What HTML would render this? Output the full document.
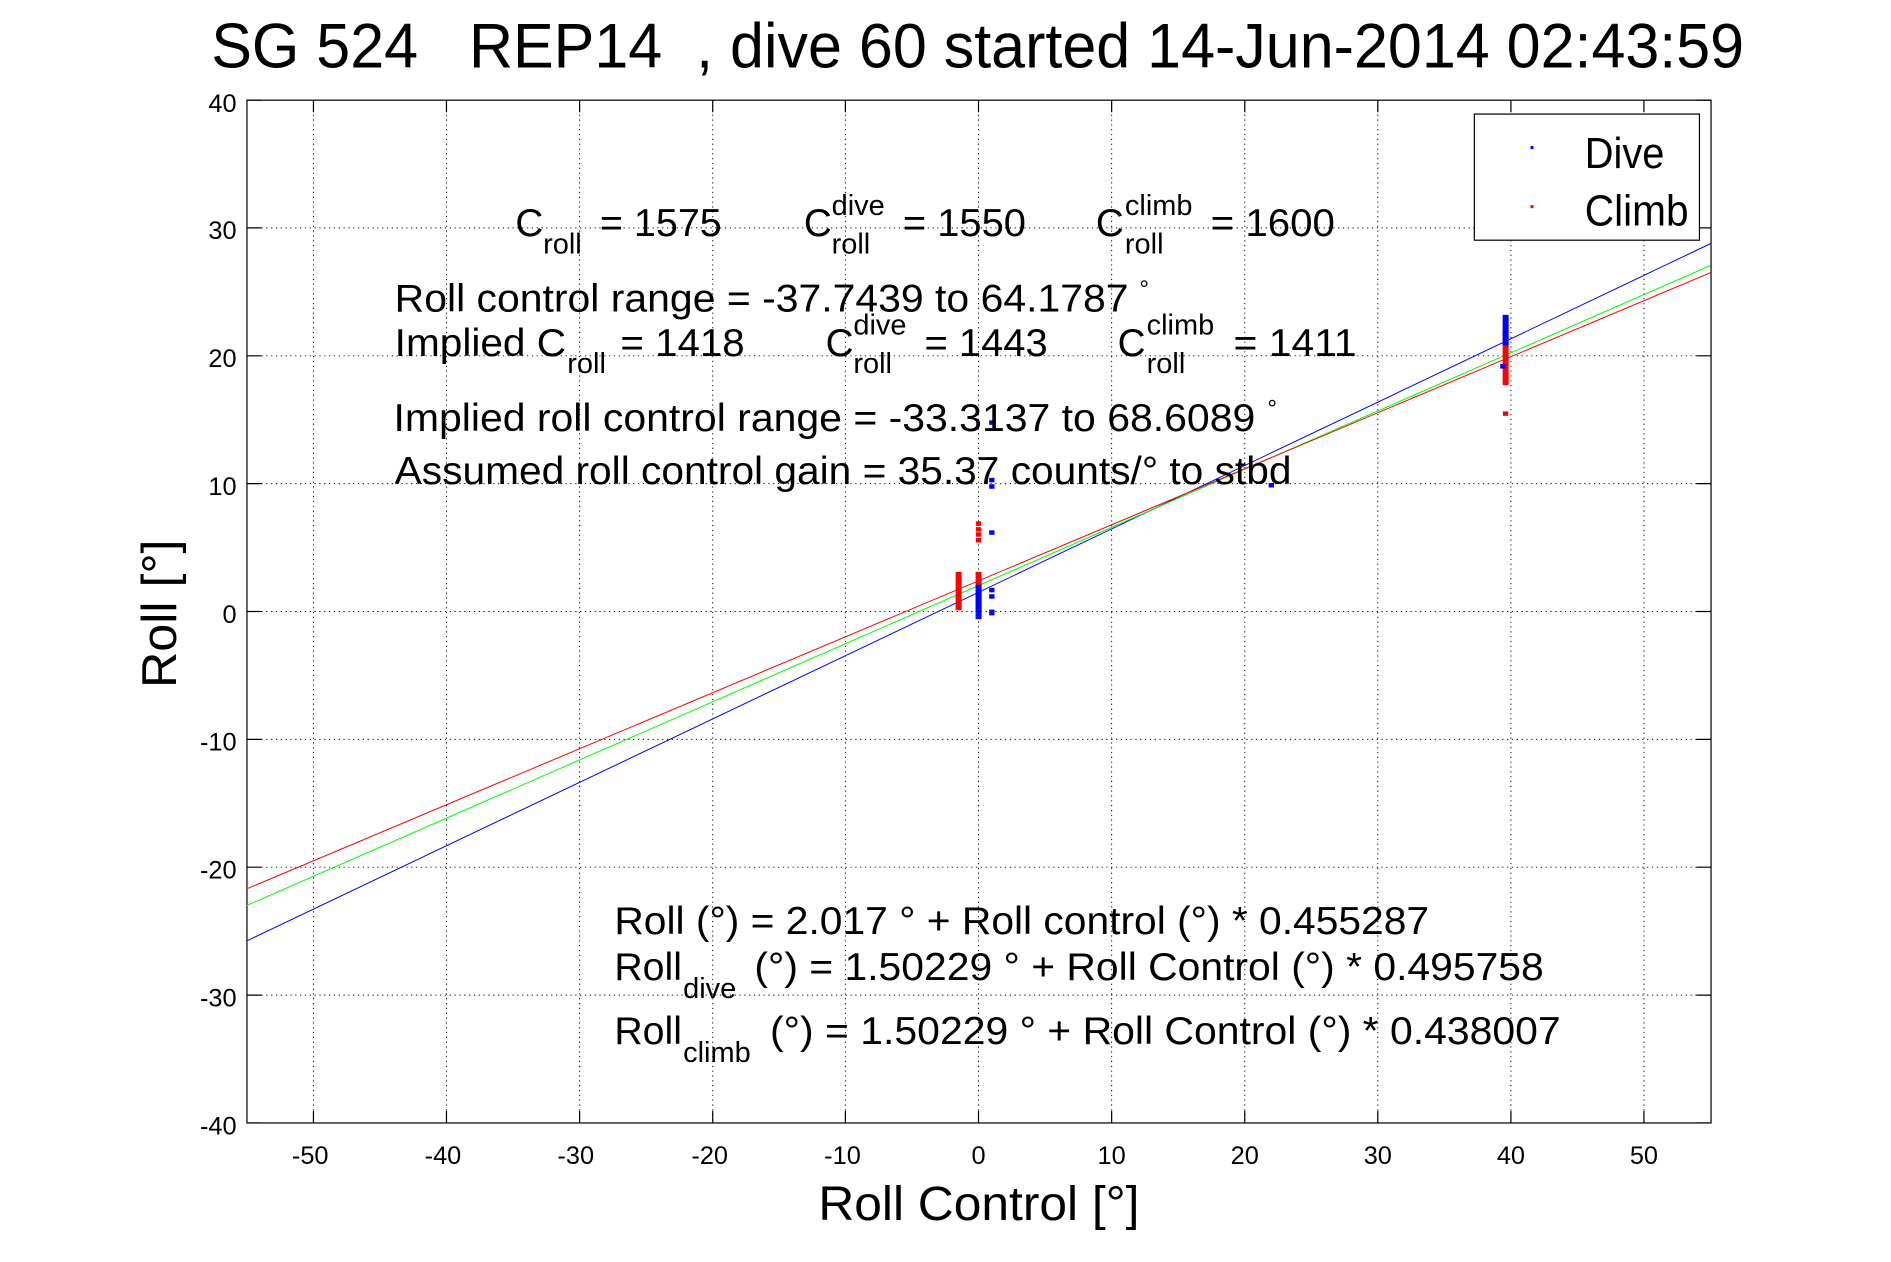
<!DOCTYPE html>
<html><head><meta charset="utf-8"><style>
html,body{margin:0;padding:0;background:#fff;}
svg{display:block;}
text{font-family:"Liberation Sans",Arial,sans-serif;fill:#000;white-space:pre;}
</style></head><body>
<svg width="1891" height="1262" viewBox="0 0 1566.7 1045.6" preserveAspectRatio="none" xmlns="http://www.w3.org/2000/svg" xml:space="preserve">
<rect x="0" y="0" width="1566.7" height="1045.6" fill="#fff"/>
<text x="175" y="56" font-size="52" textLength="1270" lengthAdjust="spacingAndGlyphs">SG 524   REP14  , dive 60 started 14-Jun-2014 02:43:59</text>
<g stroke="#000" stroke-width="0.8" stroke-dasharray="1,3" fill="none">
<path d="M259.7 83V930.4M369.9 83V930.4M480.2 83V930.4M590.5 83V930.4M700.4 83V930.4M810.7 83V930.4M921 83V930.4M1031.3 83V930.4M1141.5 83V930.4M1251.8 83V930.4M1362 83V930.4"/>
<path d="M204.6 188.8H1417.6M204.6 294.8H1417.6M204.6 400.7H1417.6M204.6 506.65H1417.6M204.6 612.6H1417.6M204.6 718.5H1417.6M204.6 824.5H1417.6"/>
</g>
<g stroke="#000" stroke-width="1" fill="none">
<path d="M259.7 930.4v-10M369.9 930.4v-10M480.2 930.4v-10M590.5 930.4v-10M700.4 930.4v-10M810.7 930.4v-10M921 930.4v-10M1031.3 930.4v-10M1141.5 930.4v-10M1251.8 930.4v-10M1362 930.4v-10"/>
<path d="M259.7 83v10M369.9 83v10M480.2 83v10M590.5 83v10M700.4 83v10M810.7 83v10M921 83v10M1031.3 83v10M1141.5 83v10M1251.8 83v10M1362 83v10"/>
<path d="M204.6 83h12M204.6 188.8h12M204.6 294.8h12M204.6 400.7h12M204.6 506.65h12M204.6 612.6h12M204.6 718.5h12M204.6 824.5h12M204.6 930.4h12"/>
<path d="M1417.6 83h-12M1417.6 188.8h-12M1417.6 294.8h-12M1417.6 400.7h-12M1417.6 506.65h-12M1417.6 612.6h-12M1417.6 718.5h-12M1417.6 824.5h-12M1417.6 930.4h-12"/>
<rect x="204.6" y="83" width="1213" height="847.4"/>
</g>
<g font-size="21" text-anchor="middle">
<text x="257" y="964.5">-50</text><text x="367" y="964.5">-40</text><text x="477" y="964.5">-30</text><text x="588" y="964.5">-20</text><text x="698" y="964.5">-10</text><text x="810.7" y="964.5">0</text><text x="921" y="964.5">10</text><text x="1031.3" y="964.5">20</text><text x="1141.5" y="964.5">30</text><text x="1251.8" y="964.5">40</text><text x="1362" y="964.5">50</text>
</g>
<g font-size="21" text-anchor="end">
<text x="196" y="93">40</text><text x="196" y="198">30</text><text x="196" y="304">20</text><text x="196" y="410">10</text><text x="196" y="516">0</text><text x="196" y="622">-10</text><text x="196" y="728">-20</text><text x="196" y="834">-30</text><text x="196" y="940">-40</text>
</g>
<text x="678" y="1011" font-size="40" textLength="266" lengthAdjust="spacingAndGlyphs">Roll Control [°]</text>
<text transform="translate(146,570) rotate(-90)" font-size="41" textLength="123" lengthAdjust="spacingAndGlyphs">Roll [°]</text>
<g transform="translate(810.7,506.65) scale(11.027,-10.594)">
<line x1="-55" y1="-25.77" x2="55" y2="28.77" stroke="#0000ff" stroke-width="1" vector-effect="non-scaling-stroke"/>
<line x1="-55" y1="-23.0" x2="55" y2="27.06" stroke="#00ff00" stroke-width="1" vector-effect="non-scaling-stroke"/>
<line x1="-55" y1="-21.7" x2="55" y2="26.5" stroke="#ff0000" stroke-width="1" vector-effect="non-scaling-stroke"/>
<g fill="#ff0000">
<rect x="-1.72" y="0.1" width="0.45" height="3" /><rect x="-0.22" y="0" width="0.45" height="3.1"/>
<rect x="-0.2" y="5.4" width="0.4" height="0.35"/><rect x="-0.2" y="5.85" width="0.4" height="0.35"/><rect x="-0.2" y="6.25" width="0.4" height="0.35"/><rect x="-0.2" y="6.7" width="0.4" height="0.35"/>
<rect x="39.38" y="17.7" width="0.45" height="4.3"/><rect x="39.4" y="15.3" width="0.4" height="0.35"/>
</g>
<g fill="#0000ff">
<rect x="-0.22" y="-0.6" width="0.45" height="2.7"/>
<rect x="0.8" y="9.6" width="0.4" height="0.35"/><rect x="0.8" y="10.1" width="0.4" height="0.35"/><rect x="0.8" y="6" width="0.4" height="0.35"/><rect x="0.8" y="1.5" width="0.4" height="0.35"/><rect x="0.8" y="1.0" width="0.4" height="0.35"/><rect x="0.8" y="-0.3" width="0.4" height="0.45"/><rect x="0.8" y="14.6" width="0.4" height="0.35"/>
<rect x="39.38" y="20.8" width="0.45" height="2.4"/><rect x="21.8" y="9.7" width="0.4" height="0.35"/><rect x="39.2" y="19.0" width="0.4" height="0.35"/>
</g>
</g>
<g font-size="32">
<text x="427" y="195.5">C</text><text x="450" y="210" font-size="24">roll</text><text x="497" y="195.5" textLength="101" lengthAdjust="spacingAndGlyphs">= 1575</text>
<text x="666" y="195.5">C</text><text x="689" y="178" font-size="24">dive</text><text x="689" y="210" font-size="24">roll</text><text x="748" y="195.5" textLength="102" lengthAdjust="spacingAndGlyphs">= 1550</text>
<text x="908" y="195.5">C</text><text x="932" y="178" font-size="24">climb</text><text x="932" y="210" font-size="24">roll</text><text x="1003" y="195.5" textLength="103" lengthAdjust="spacingAndGlyphs">= 1600</text>
<text x="327" y="258" textLength="608" lengthAdjust="spacingAndGlyphs">Roll control range = -37.7439 to 64.1787</text><text x="944" y="246" font-size="20">°</text>
<text x="327" y="295" textLength="142" lengthAdjust="spacingAndGlyphs">Implied C</text><text x="470" y="309" font-size="24">roll</text><text x="514" y="295" textLength="103" lengthAdjust="spacingAndGlyphs">= 1418</text>
<text x="684" y="295">C</text><text x="707" y="277" font-size="24">dive</text><text x="707" y="309" font-size="24">roll</text><text x="766" y="295" textLength="102" lengthAdjust="spacingAndGlyphs">= 1443</text>
<text x="926" y="295">C</text><text x="950" y="277" font-size="24">climb</text><text x="950" y="309" font-size="24">roll</text><text x="1022" y="295" textLength="102" lengthAdjust="spacingAndGlyphs">= 1411</text>
<text x="326" y="357" textLength="714" lengthAdjust="spacingAndGlyphs">Implied roll control range = -33.3137 to 68.6089</text><text x="1050" y="345" font-size="20">°</text>
<text x="327" y="401" textLength="743" lengthAdjust="spacingAndGlyphs">Assumed roll control gain = 35.37 counts/° to stbd</text>
<text x="509" y="774" textLength="675" lengthAdjust="spacingAndGlyphs">Roll (°) = 2.017 ° + Roll control (°) * 0.455287</text>
<text x="509" y="812" textLength="56" lengthAdjust="spacingAndGlyphs">Roll</text><text x="566" y="827" font-size="24">dive</text><text x="625" y="812" textLength="654" lengthAdjust="spacingAndGlyphs">(°) = 1.50229 ° + Roll Control (°) * 0.495758</text>
<text x="509" y="865" textLength="56" lengthAdjust="spacingAndGlyphs">Roll</text><text x="566" y="880" font-size="24">climb</text><text x="638" y="865" textLength="655" lengthAdjust="spacingAndGlyphs">(°) = 1.50229 ° + Roll Control (°) * 0.438007</text>
</g>
<rect x="1221.5" y="94.5" width="186.5" height="104.5" fill="#fff" stroke="#000" stroke-width="1"/>
<rect x="1268" y="121" width="2.5" height="2.5" fill="#0000ff"/>
<rect x="1268" y="170" width="2.5" height="2.5" fill="#ff0000"/>
<text x="1313" y="139" font-size="36" textLength="66" lengthAdjust="spacingAndGlyphs">Dive</text>
<text x="1313" y="187" font-size="36" textLength="86" lengthAdjust="spacingAndGlyphs">Climb</text>
</svg>
</body></html>
